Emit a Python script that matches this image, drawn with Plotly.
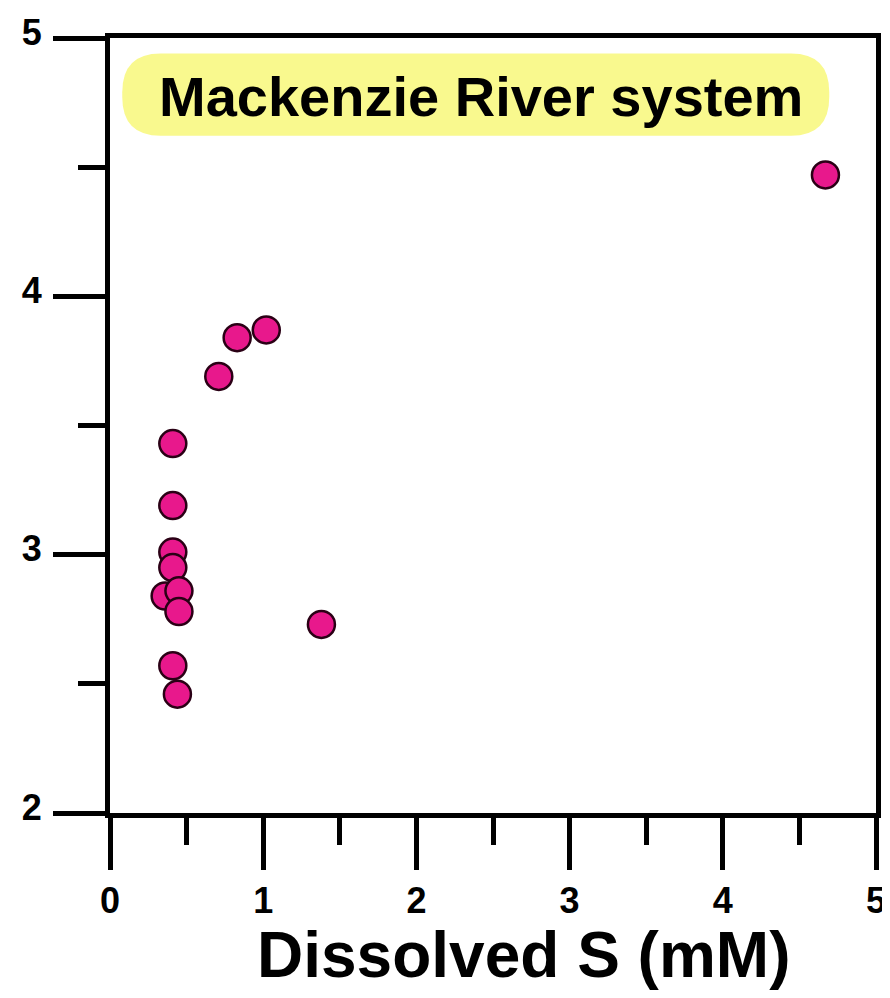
import plotly.graph_objects as go

# Data
dissolved_s = [0.41, 0.41, 0.41, 0.41, 0.36, 0.45, 0.45, 1.38, 0.41, 0.44, 0.71, 0.83, 1.02, 4.67]
y_values = [3.43, 3.19, 3.01, 2.95, 2.84, 2.86, 2.78, 2.73, 2.57, 2.46, 3.69, 3.84, 3.87, 4.47]
x_ticks = [0, 1, 2, 3, 4, 5]
y_ticks = [2, 3, 4, 5]
title_text = "Mackenzie River system"
x_title = "Dissolved S (mM)"

FONT = "Arial, Liberation Sans, sans-serif"

fig = go.Figure()
fig.add_trace(go.Scatter(
    x=dissolved_s, y=y_values, mode="markers",
    marker=dict(size=27, color="#E8188C", line=dict(color="#2A0015", width=2.5)),
    showlegend=False, hoverinfo="x+y",
))

axis_common = dict(
    showline=True, linecolor="black", linewidth=5, mirror=True,
    showgrid=False, zeroline=False, automargin=False,
    ticks="outside", ticklen=52, tickwidth=5, tickcolor="black",
    tickfont=dict(family=FONT, size=36, color="black", weight="bold"),
)

fig.update_xaxes(
    range=[0, 5], tickvals=x_ticks, ticktext=[str(v) for v in x_ticks],
    minor=dict(dtick=0.5, ticks="outside", ticklen=27, tickwidth=5, tickcolor="black", showgrid=False),
    ticklabelstandoff=0,
    **axis_common,
)
fig.update_yaxes(
    range=[2, 5], tickvals=y_ticks, ticktext=[str(v) for v in y_ticks],
    minor=dict(dtick=0.5, ticks="outside", ticklen=27, tickwidth=5, tickcolor="black", showgrid=False),
    ticklabelstandoff=4, ticklabelshift=-6,
    **axis_common,
)

# Rounded yellow title box (paper coordinates)
x0, x1, y0, y1 = 0.016, 0.939, 0.874, 0.980
rx, ry = 0.050, 0.050
path = (f"M {x0+rx},{y1} L {x1-rx},{y1} Q {x1},{y1} {x1},{y1-ry} "
        f"L {x1},{y0+ry} Q {x1},{y0} {x1-rx},{y0} L {x0+rx},{y0} "
        f"Q {x0},{y0} {x0},{y0+ry} L {x0},{y1-ry} Q {x0},{y1} {x0+rx},{y1} Z")
fig.add_shape(type="path", path=path, xref="paper", yref="paper",
              fillcolor="#F9F98E", line=dict(width=0), layer="below")

fig.add_annotation(text=title_text, xref="paper", yref="paper", x=0.484, y=0.925,
                   showarrow=False, xanchor="center", yanchor="middle",
                   font=dict(family=FONT, size=56, color="black", weight="bold"))
fig.add_annotation(text=x_title, xref="paper", yref="paper", x=0.540, y=-0.183,
                   showarrow=False, xanchor="center", yanchor="middle",
                   font=dict(family=FONT, size=64, color="black", weight="bold"))

# The page body has an 8px default margin, so the figure is 8px smaller
# and the left/top margins are reduced accordingly.
fig.update_layout(
    width=882, height=990,
    margin=dict(l=102, r=14, t=30, b=185, autoexpand=False),
    paper_bgcolor="white", plot_bgcolor="white",
)

fig.write_html("out.html")
